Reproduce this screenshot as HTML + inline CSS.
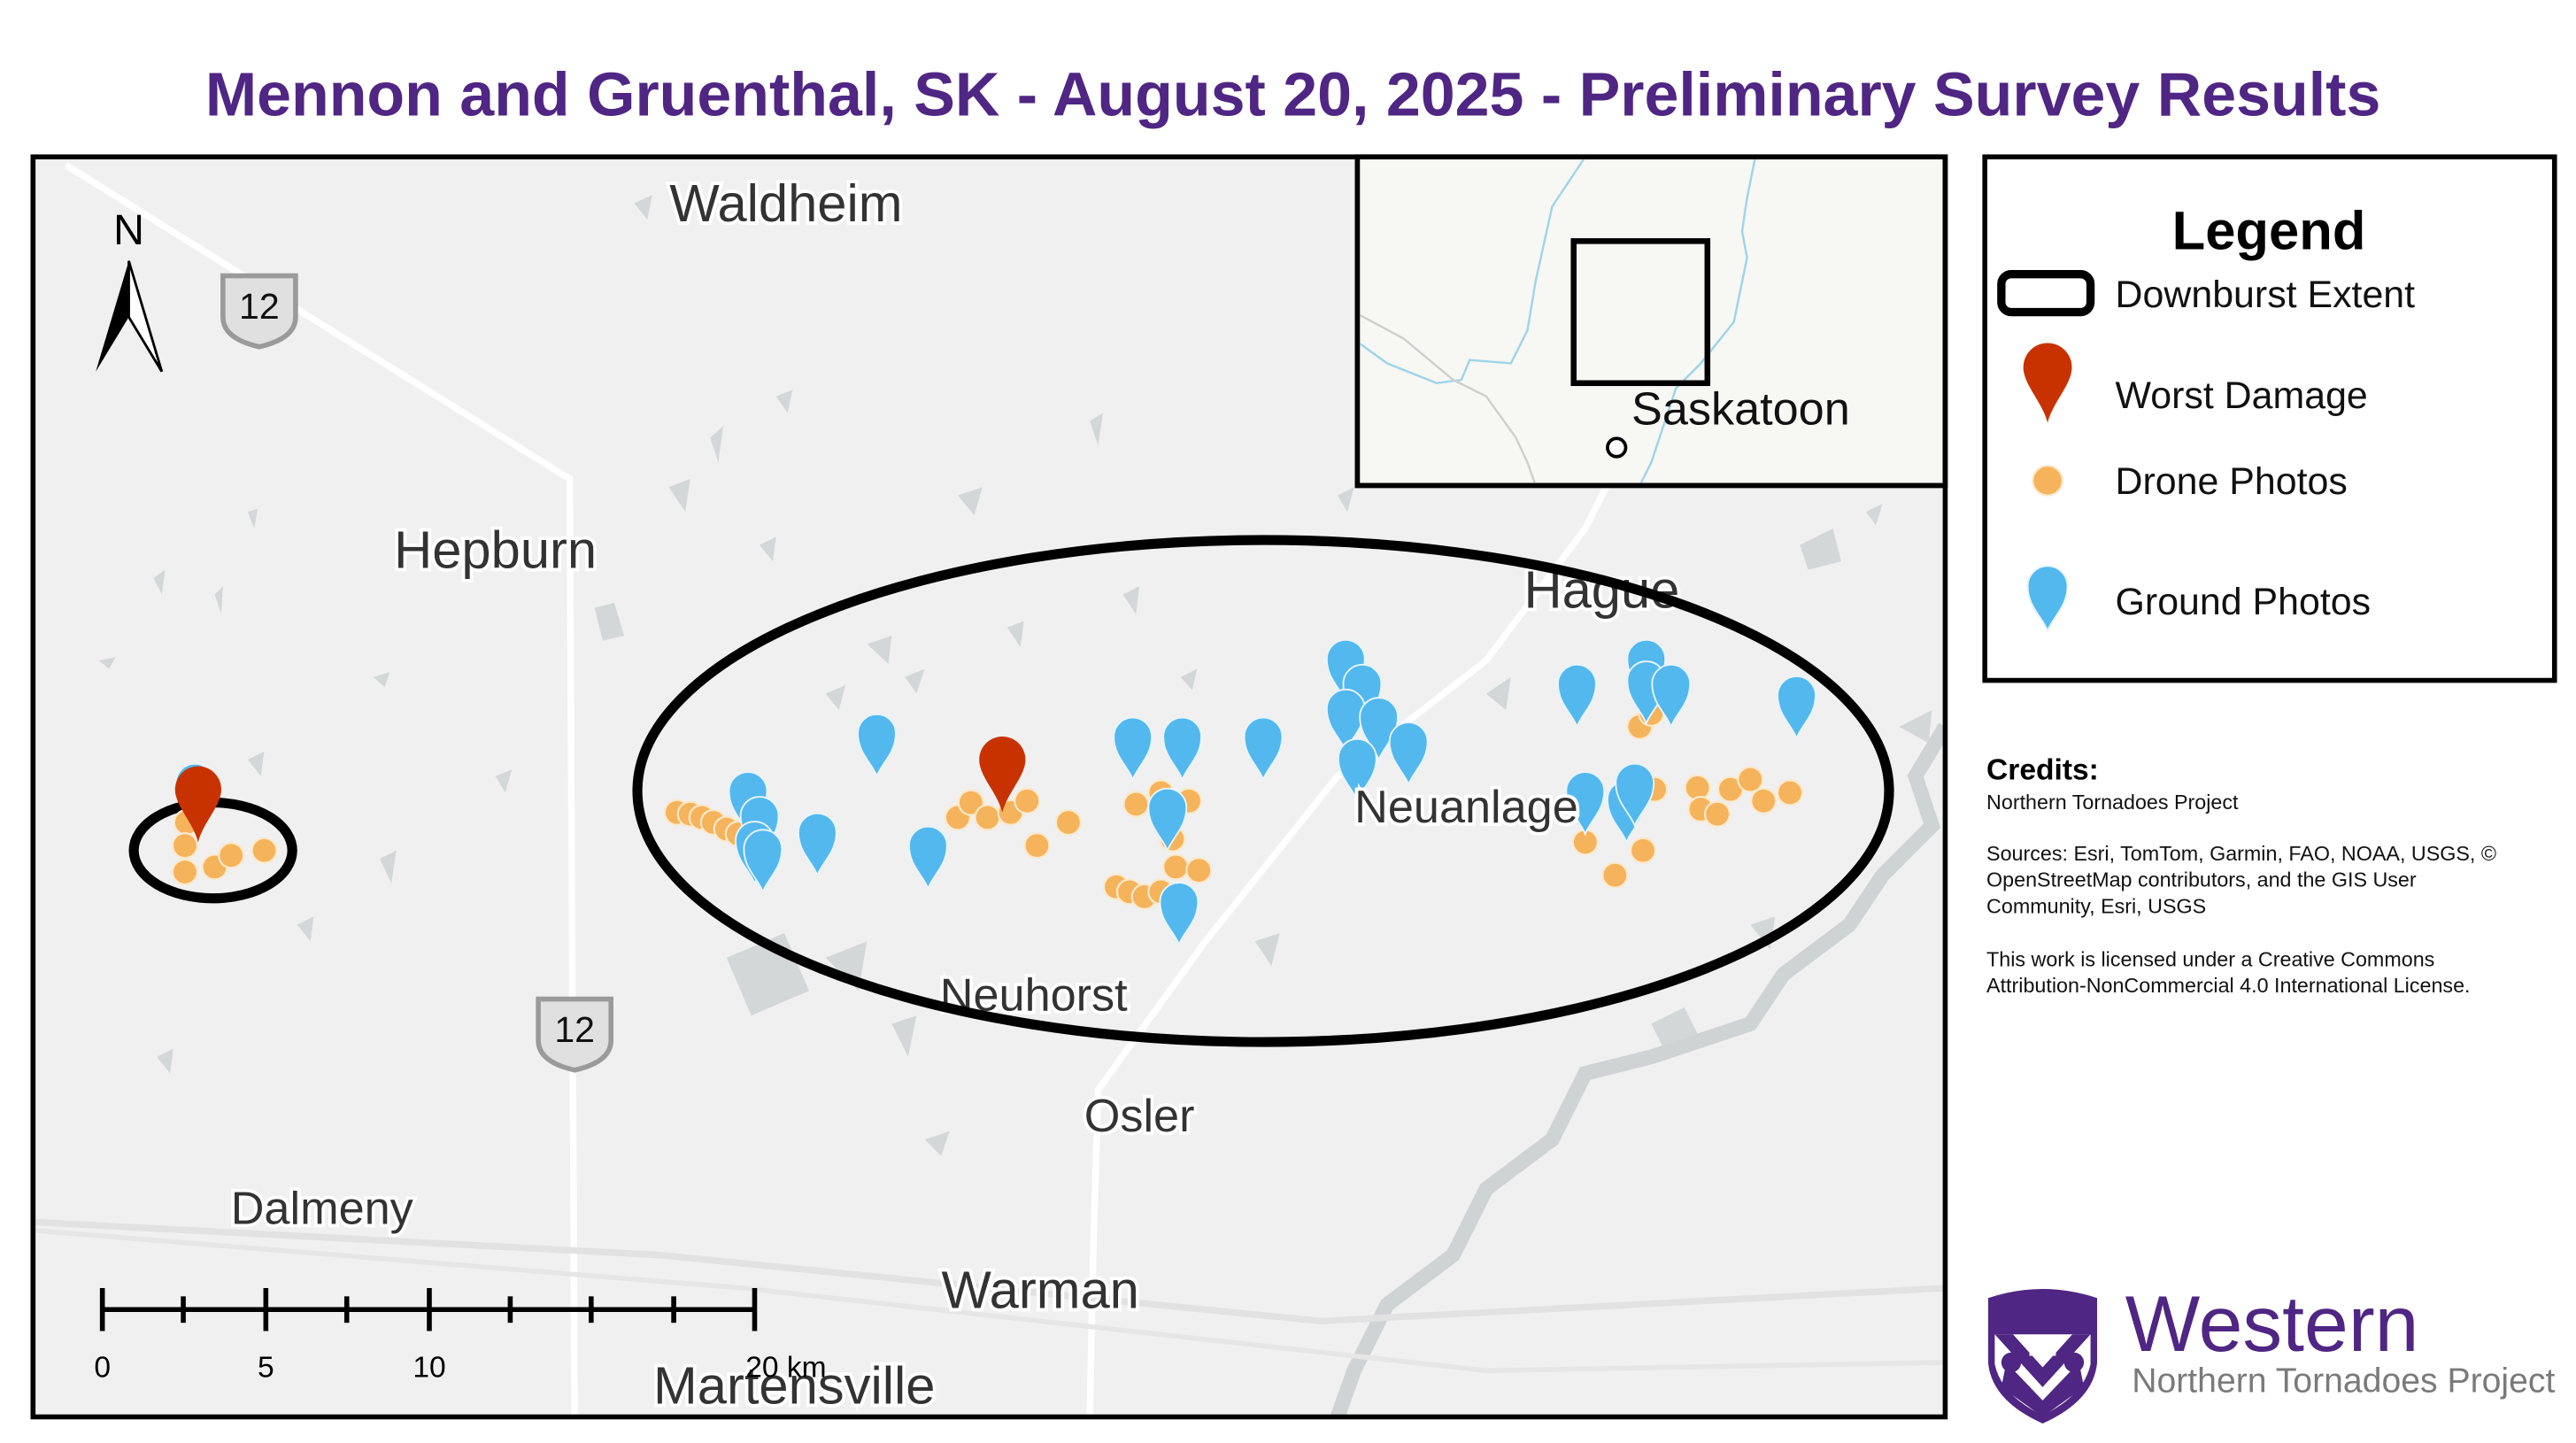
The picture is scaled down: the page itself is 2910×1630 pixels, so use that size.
<!DOCTYPE html>
<html><head><meta charset="utf-8"><style>
html,body{margin:0;padding:0;background:#fff}
svg{display:block}
text{font-family:"Liberation Sans",sans-serif}
</style></head><body>
<svg width="2910" height="1630" viewBox="0 0 1560 873.8" xmlns="http://www.w3.org/2000/svg">
<defs>
<clipPath id="mc"><rect x="20" y="95" width="1158" height="763"/></clipPath>
<g id="bp"><path d="M0,0 C-3,-8 -11.5,-14 -11.5,-26 A11.5,11.5 0 1 1 11.5,-26 C11.5,-14 3,-8 0,0Z" fill="#52b8ee" stroke="#e8f4fb" stroke-width="1"/></g>
<g id="od"><circle r="7.5" fill="#f5b35c" stroke="#fbe9cc" stroke-width="1.2"/></g>
<g id="rp"><path d="M0,0 C-3,-12 -14,-22 -14,-32 A14,14 0 1 1 14,-32 C14,-22 3,-12 0,0Z" fill="#c83200"/></g>
</defs>
<rect width="1560" height="873.8" fill="#fff"/>
<text x="783" y="70" text-anchor="middle" font-size="37.5" font-weight="bold" fill="#4f2683">Mennon and Gruenthal, SK - August 20, 2025 - Preliminary Survey Results</text>

<g clip-path="url(#mc)">
<rect x="20" y="95" width="1158" height="763" fill="#f0f0f0"/>
<g fill="#d4d7d8">
<polygon points="384,123 395,118 392,133"/><polygon points="430,265 438,258 435,280"/><polygon points="405,295 418,290 415,310"/><polygon points="150,310 156,308 154,320"/>
<polygon points="93,350 100,345 98,360"/><polygon points="60,400 70,398 66,405"/><polygon points="130,360 135,355 134,372"/><polygon points="226,410 236,407 233,416"/>
<polygon points="360,368 372,365 378,385 365,388"/><polygon points="525,390 540,385 538,402"/><polygon points="548,410 560,405 555,420"/><polygon points="660,255 668,250 665,270"/>
<polygon points="680,360 690,355 688,372"/><polygon points="715,410 725,405 722,418"/><polygon points="1090,330 1110,320 1115,340 1095,345"/><polygon points="1130,310 1140,305 1136,318"/>
<polygon points="1150,440 1170,430 1168,450"/><polygon points="440,580 475,565 490,600 455,615"/><polygon points="500,580 525,570 520,600"/><polygon points="540,620 555,615 550,640"/>
<polygon points="230,520 240,515 237,535"/><polygon points="95,640 105,635 103,650"/><polygon points="900,420 915,410 912,430"/><polygon points="760,570 775,565 770,585"/>
<polygon points="810,300 820,295 816,310"/><polygon points="580,300 595,295 590,312"/><polygon points="460,330 470,325 468,340"/><polygon points="300,470 310,466 306,480"/>
<polygon points="150,460 160,455 158,470"/><polygon points="180,560 190,555 188,570"/><polygon points="500,420 512,415 508,430"/><polygon points="610,380 620,376 618,392"/>
<polygon points="1000,620 1020,610 1030,630 1010,640"/><polygon points="1060,560 1075,555 1072,575"/><polygon points="560,690 575,685 570,700"/><polygon points="470,240 480,236 477,250"/>
</g>
<path d="M1178,440 L1160,470 L1170,500 L1140,530 L1120,560 L1080,590 L1060,620 L1000,640 L960,650 L940,690 L900,720 L880,760 L840,790 L820,830 L810,858" fill="none" stroke="#d0d3d4" stroke-width="9"/>
<path d="M40,100 L345,290 L348,858" fill="none" stroke="#fff" stroke-width="4"/>
<path d="M1000,240 L960,320 L900,400 L810,470 L730,570 L665,660 L662,760 L660,858" fill="none" stroke="#fff" stroke-width="4"/>
<path d="M20,740 L400,760 L800,800 L1178,780" fill="none" stroke="#e2e2e2" stroke-width="4"/>
<path d="M20,745 L450,780 L900,830 L1178,825" fill="none" stroke="#e6e6e6" stroke-width="3"/>
<g font-size="32" fill="#333" stroke="#fff" stroke-width="4" paint-order="stroke" text-anchor="middle">
<text x="476" y="134">Waldheim</text><text x="300" y="344">Hepburn</text><text x="970" y="368">Hague</text>
<text x="626" y="612" font-size="28">Neuhorst</text><text x="690" y="685" font-size="28">Osler</text><text x="195" y="741" font-size="28">Dalmeny</text>
<text x="630" y="792">Warman</text><text x="481" y="850">Martensville</text>
</g>
<g stroke="#9a9a9a" stroke-width="3" fill="#e0e0e0">
<path d="M135,167 L179,167 L179,192 Q179,205 157,210 Q135,205 135,192Z"/>
<path d="M326,605 L370,605 L370,630 Q370,643 348,648 Q326,643 326,630Z"/>
</g>
<text x="157" y="193" font-size="22" text-anchor="middle" fill="#111">12</text>
<text x="348" y="631" font-size="22" text-anchor="middle" fill="#111">12</text>
<text x="78" y="148" font-size="26" text-anchor="middle">N</text>
<path d="M78,158 L58,225 L78,192Z" fill="#000"/><path d="M78,158 L98,225 L78,192Z" fill="#fff" stroke="#000" stroke-width="1.5"/>
<ellipse cx="765" cy="479" rx="379" ry="152" fill="none" stroke="#000" stroke-width="6"/>
<ellipse cx="129" cy="515" rx="48" ry="29" fill="none" stroke="#000" stroke-width="6"/>
<g>
<use href="#od" x="410" y="492"/><use href="#od" x="418" y="493"/><use href="#od" x="425" y="495"/><use href="#od" x="432" y="498"/><use href="#od" x="440" y="502"/><use href="#od" x="447" y="505"/>
<use href="#od" x="580" y="495"/><use href="#od" x="588" y="486"/><use href="#od" x="598" y="495"/><use href="#od" x="612" y="492"/><use href="#od" x="622" y="485"/><use href="#od" x="628" y="512"/><use href="#od" x="647" y="498"/>
<use href="#od" x="676" y="537"/><use href="#od" x="684" y="540"/><use href="#od" x="693" y="543"/><use href="#od" x="703" y="540"/><use href="#od" x="712" y="525"/><use href="#od" x="726" y="527"/><use href="#od" x="688" y="487"/><use href="#od" x="703" y="480"/><use href="#od" x="720" y="485"/><use href="#od" x="710" y="508"/>
<use href="#od" x="960" y="510"/><use href="#od" x="978" y="530"/><use href="#od" x="995" y="515"/><use href="#od" x="1002" y="478"/><use href="#od" x="1028" y="477"/><use href="#od" x="1030" y="490"/><use href="#od" x="1040" y="493"/><use href="#od" x="1048" y="478"/><use href="#od" x="1060" y="472"/><use href="#od" x="1068" y="485"/><use href="#od" x="1084" y="480"/><use href="#od" x="993" y="440"/><use href="#od" x="1000" y="432"/>
<use href="#od" x="113" y="498"/><use href="#od" x="112" y="512"/><use href="#od" x="112" y="528"/><use href="#od" x="130" y="525"/><use href="#od" x="140" y="518"/><use href="#od" x="160" y="515"/>
</g>
<g>
<use href="#bp" x="453" y="505"/><use href="#bp" x="460" y="520"/><use href="#bp" x="457" y="535"/><use href="#bp" x="462" y="540"/><use href="#bp" x="495" y="530"/><use href="#bp" x="531" y="470"/><use href="#bp" x="562" y="538"/><use href="#bp" x="607" y="485"/>
<use href="#bp" x="686" y="472"/><use href="#bp" x="716" y="472"/><use href="#bp" x="707" y="515"/><use href="#bp" x="714" y="572"/><use href="#bp" x="765" y="472"/>
<use href="#bp" x="815" y="425"/><use href="#bp" x="825" y="440"/><use href="#bp" x="815" y="455"/><use href="#bp" x="835" y="460"/><use href="#bp" x="822" y="485"/><use href="#bp" x="853" y="475"/>
<use href="#bp" x="955" y="440"/><use href="#bp" x="997" y="425"/><use href="#bp" x="997" y="438"/><use href="#bp" x="1012" y="440"/><use href="#bp" x="1088" y="447"/><use href="#bp" x="960" y="505"/><use href="#bp" x="985" y="510"/><use href="#bp" x="990" y="500"/>
<use href="#bp" x="118" y="500"/>
</g>
<use href="#rp" x="607" y="492"/>
<use href="#rp" x="120" y="510"/>
<text x="888" y="498" font-size="28" text-anchor="middle" fill="#333" stroke="#fff" stroke-width="4" paint-order="stroke">Neuanlage</text>
<g stroke="#000" stroke-width="3"><line x1="62" y1="793" x2="457" y2="793"/>
<line x1="62" y1="780" x2="62" y2="806"/><line x1="111" y1="785" x2="111" y2="801"/><line x1="161" y1="780" x2="161" y2="806"/><line x1="210" y1="785" x2="210" y2="801"/><line x1="260" y1="780" x2="260" y2="806"/><line x1="309" y1="785" x2="309" y2="801"/><line x1="358" y1="785" x2="358" y2="801"/><line x1="408" y1="785" x2="408" y2="801"/><line x1="457" y1="780" x2="457" y2="806"/></g>
<g font-size="18" text-anchor="middle"><text x="62" y="834">0</text><text x="161" y="834">5</text><text x="260" y="834">10</text><text x="476" y="834">20  km</text></g>
<rect x="822" y="95" width="356" height="199" fill="#f7f7f4" stroke="#000" stroke-width="3"/>
<g fill="none" stroke="#9ed4ea" stroke-width="1.3">
<path d="M960,95 L940,125 L930,170 L925,200 L915,220 L890,218 L885,230 L870,232 L840,220 L822,207"/>
<path d="M1063,95 L1058,120 L1055,140 L1058,156 L1050,195 L1030,220 L1015,235 L1000,280 L993,294"/>
</g>
<g fill="none" stroke="#cfcfcf" stroke-width="1.3"><path d="M822,190 L850,205 L880,230 L900,240 L918,265 L925,280 L930,294"/></g>
<rect x="953" y="146" width="81" height="86" fill="none" stroke="#000" stroke-width="3.5"/>
<text x="988" y="257" font-size="28" fill="#111">Saskatoon</text>
<circle cx="979" cy="271" r="5.5" fill="#fff" stroke="#000" stroke-width="2"/>
</g>
<rect x="20" y="95" width="1158" height="763" fill="none" stroke="#000" stroke-width="3"/>
<rect x="822" y="95" width="356" height="199" fill="none" stroke="#000" stroke-width="3"/>

<rect x="1202" y="95" width="345" height="317" fill="#fff" stroke="#000" stroke-width="3"/>
<text x="1374" y="151" font-size="33" font-weight="bold" text-anchor="middle">Legend</text>
<rect x="1212" y="166" width="54" height="23" rx="6" fill="none" stroke="#000" stroke-width="5"/>
<g font-size="23" fill="#111"><text x="1281" y="186">Downburst Extent</text><text x="1281" y="247">Worst Damage</text><text x="1281" y="299">Drone Photos</text><text x="1281" y="372">Ground Photos</text></g>
<g transform="translate(1240,256) scale(1.05)"><path d="M0,0 C-3,-12 -14,-22 -14,-32 A14,14 0 1 1 14,-32 C14,-22 3,-12 0,0Z" fill="#c83200"/></g>
<circle cx="1240" cy="291" r="9" fill="#f5b35c" stroke="#fbe9cc" stroke-width="1.2"/>
<use href="#bp" x="1240" y="382" transform="translate(-62,-19) scale(1.05)"/>

<text x="1203" y="472" font-size="18" font-weight="bold">Credits:</text>
<g font-size="12.5" fill="#111">
<text x="1203" y="490">Northern Tornadoes Project</text>
<text x="1203" y="521">Sources: Esri, TomTom, Garmin, FAO, NOAA, USGS, ©</text>
<text x="1203" y="537">OpenStreetMap contributors, and the GIS User</text>
<text x="1203" y="553">Community, Esri, USGS</text>
<text x="1203" y="585">This work is licensed under a Creative Commons</text>
<text x="1203" y="601">Attribution-NonCommercial 4.0 International License.</text>
</g>

<path d="M1204,786 Q1237,775 1270,786 L1270,825 Q1268,848 1237,862 Q1206,848 1204,825Z" fill="#4f2683"/>
<path d="M1208,808 L1266,808 L1266,826 Q1262,845 1237,857 Q1212,845 1208,826Z" fill="#fff"/>
<path d="M1208,808 L1237,840 L1266,808 L1255,808 L1237,828 L1219,808Z" fill="#4f2683"/>
<path d="M1215,825 L1237,848 L1259,825 L1262,840 L1237,858 L1212,840Z" fill="#4f2683"/>
<circle cx="1218" cy="825" r="6" fill="#4f2683"/><circle cx="1256" cy="825" r="6" fill="#4f2683"/>
<rect x="1229" y="812" width="16" height="9" fill="#fff"/>
<text x="1287" y="818" font-family="Liberation Serif" font-size="48" fill="#4f2683">Western</text>
<text x="1291" y="843" font-size="21" fill="#7a7a7a">Northern Tornadoes Project</text>
</svg>
</body></html>
